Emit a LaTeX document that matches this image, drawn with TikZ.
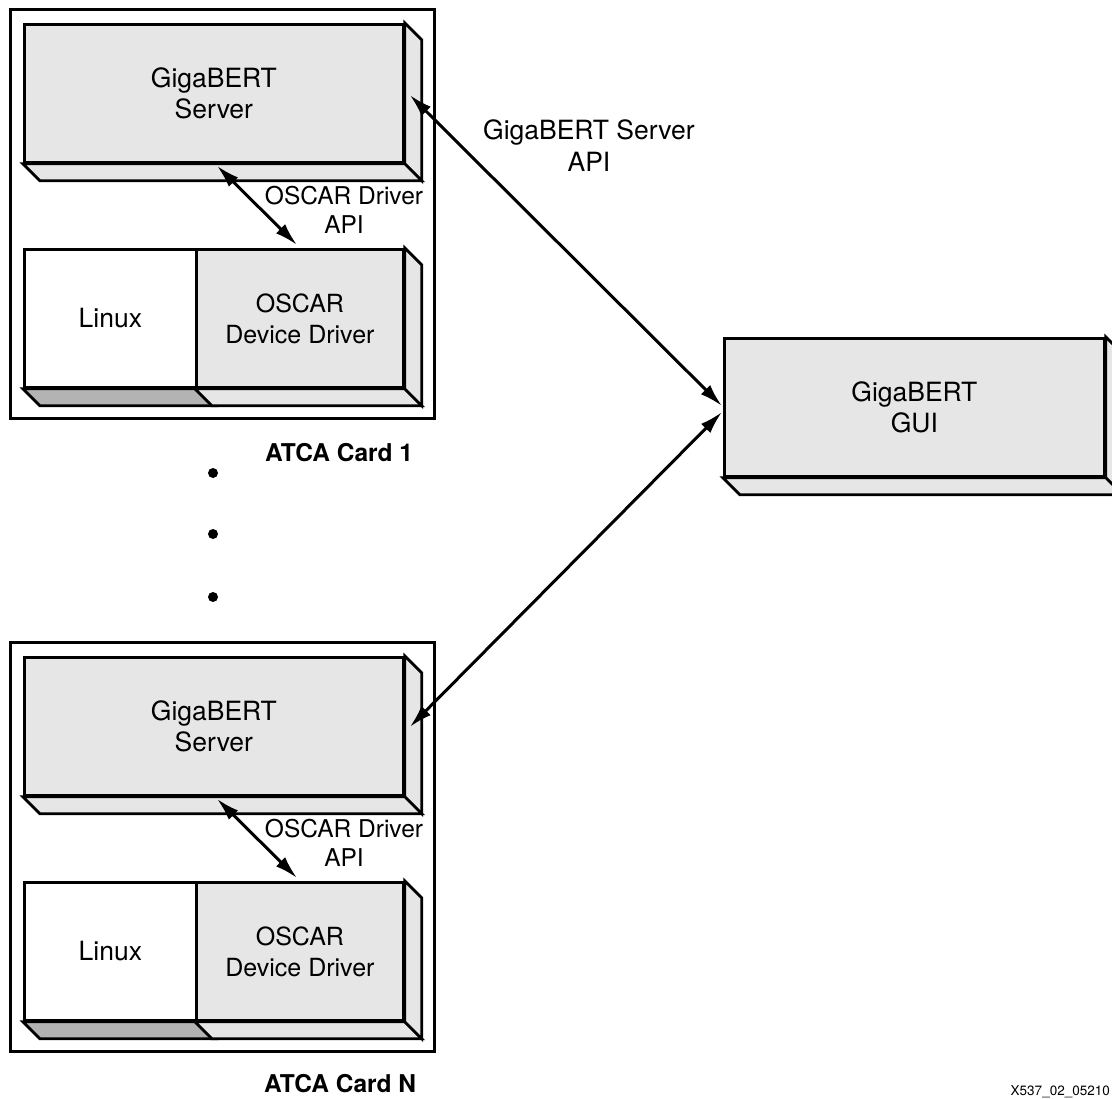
\documentclass[tikz,border=0pt]{standalone}
\usepackage{fontspec}
\setmainfont{TeX Gyre Heros}
\usetikzlibrary{arrows.meta,calc}
\definecolor{facegray}{HTML}{E6E6E6}
\definecolor{darkface}{HTML}{B3B3B3}
\begin{document}
\begin{tikzpicture}[x=1pt,y=-1pt,
  lw/.style={line width=2.8pt},
  cardbox/.style={draw,lw,fill=white,inner sep=0pt,anchor=north west},
  frontbox/.style={draw,lw,fill=facegray,inner sep=0pt,anchor=north west,align=center,
     font=\fontsize{26.5}{31}\selectfont},
  whitebox/.style={frontbox,fill=white},
  sideface/.style={draw,lw,fill=facegray,line join=miter},
  darkside/.style={draw,lw,fill=darkface,line join=miter},
  lbl/.style={align=center,inner sep=0pt,font=\fontsize{24.5}{29}\selectfont},
  cardlbl/.style={anchor=west,inner sep=0pt,font=\fontsize{24.5}{29}\selectfont\bfseries},
  conn/.style={line width=3pt,{Latex[length=23pt,width=13pt]}-{Latex[length=23pt,width=13pt]}},
  dot/.style={circle,fill=black,inner sep=0pt,minimum size=10pt}
]
\useasboundingbox (0,0) rectangle (1112,1099);

% ---------- Card 1 ----------
\node[cardbox,minimum width=424pt,minimum height=409pt] (card1) at (9,8) {};
\node[frontbox,minimum width=379pt,minimum height=138pt] (srv1) at (23,23) {GigaBERT\\Server};
\draw[sideface] (srv1.north east) -- ++(17,17) -- ($(srv1.south east)+(17,17)$) -- (srv1.south east) -- cycle;
\draw[sideface] (srv1.south west) -- (srv1.south east) -- ++(17,17) -- ($(srv1.south west)+(17,17)$) -- cycle;

\node[whitebox,minimum width=172pt,minimum height=138pt] (lin1) at (23,248) {Linux};
\node[frontbox,minimum width=207pt,minimum height=138pt,font=\fontsize{25}{31}\selectfont] (drv1) at (195,248) {OSCAR\\Device Driver};
\draw[darkside] (lin1.south west) -- (lin1.south east) -- ++(17,17) -- ($(lin1.south west)+(17,17)$) -- cycle;
\draw[sideface] (drv1.south west) -- (drv1.south east) -- ++(17,17) -- ($(drv1.south west)+(17,17)$) -- cycle;
\draw[sideface] (drv1.north east) -- ++(17,17) -- ($(drv1.south east)+(17,17)$) -- (drv1.south east) -- cycle;

\coordinate (o1a) at ($(srv1.south west)+(194,2)$);
\coordinate (o1b) at ($(drv1.north west)+(102,-3)$);
\draw[conn] (o1a) -- (o1b);
\node[lbl] (olbl1) at (344,210) {OSCAR Driver\\API};
\node[cardlbl] (c1lbl) at (265,453) {ATCA Card 1};

% ---------- dots ----------
\node[dot] (d1) at (213,473) {};
\node[dot] (d2) at (213,534) {};
\node[dot] (d3) at (213,597) {};

% ---------- Card N ----------
\node[cardbox,minimum width=424pt,minimum height=409pt] (cardN) at (9,641) {};
\node[frontbox,minimum width=379pt,minimum height=138pt] (srvN) at (23,656) {GigaBERT\\Server};
\draw[sideface] (srvN.north east) -- ++(17,17) -- ($(srvN.south east)+(17,17)$) -- (srvN.south east) -- cycle;
\draw[sideface] (srvN.south west) -- (srvN.south east) -- ++(17,17) -- ($(srvN.south west)+(17,17)$) -- cycle;

\node[whitebox,minimum width=172pt,minimum height=138pt] (linN) at (23,881) {Linux};
\node[frontbox,minimum width=207pt,minimum height=138pt,font=\fontsize{25}{31}\selectfont] (drvN) at (195,881) {OSCAR\\Device Driver};
\draw[darkside] (linN.south west) -- (linN.south east) -- ++(17,17) -- ($(linN.south west)+(17,17)$) -- cycle;
\draw[sideface] (drvN.south west) -- (drvN.south east) -- ++(17,17) -- ($(drvN.south west)+(17,17)$) -- cycle;
\draw[sideface] (drvN.north east) -- ++(17,17) -- ($(drvN.south east)+(17,17)$) -- (drvN.south east) -- cycle;

\coordinate (oNa) at ($(srvN.south west)+(194,2)$);
\coordinate (oNb) at ($(drvN.north west)+(102,-3)$);
\draw[conn] (oNa) -- (oNb);
\node[lbl] (olblN) at (344,843) {OSCAR Driver\\API};
\node[cardlbl] (cNlbl) at (264,1084) {ATCA Card N};

% ---------- GUI ----------
\node[frontbox,minimum width=380pt,minimum height=138pt] (gui) at (723,337) {GigaBERT\\GUI};
\draw[sideface] (gui.north east) -- ++(17,17) -- ($(gui.south east)+(17,17)$) -- (gui.south east) -- cycle;
\draw[sideface] (gui.south west) -- (gui.south east) -- ++(17,17) -- ($(gui.south west)+(17,17)$) -- cycle;

% ---------- API connectors ----------
\coordinate (s1r) at ($(srv1.north east)+(5,72)$);
\coordinate (gA) at ($(gui.north west)+(-1,69)$);
\coordinate (sNr) at ($(srvN.north east)+(5,71)$);
\coordinate (gB) at ($(gui.north west)+(-1,75)$);
\draw[conn] (s1r) -- (gA);
\draw[conn] (sNr) -- (gB);
\node[lbl,font=\fontsize{26.5}{32}\selectfont] (apilbl) at (589,146) {GigaBERT Server\\API};

\node[anchor=east,inner sep=0pt,font=\fontsize{13.5}{15}\selectfont] (fig) at (1110,1092) {X537\_02\_05210};
\end{tikzpicture}
\end{document}
